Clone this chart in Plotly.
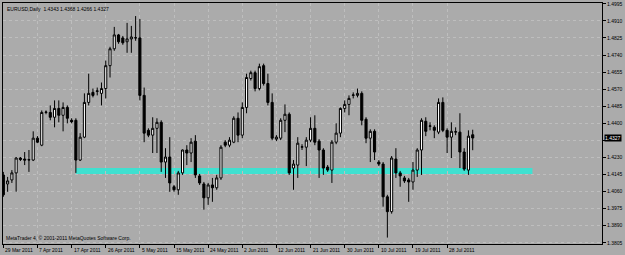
import plotly.graph_objects as go

# ---- data (EURUSD daily; bar index = position) ----
opens = [1.4143, 1.4098, 1.4118, 1.4153, 1.4227, 1.4222, 1.4217, 1.4217, 1.4326, 1.4291,
         1.4454, 1.4454, 1.4430, 1.4474, 1.4440, 1.4479, 1.4415, 1.4415, 1.4217, 1.4331,
         1.4504, 1.4554, 1.4559, 1.4549, 1.4573, 1.4687, 1.4771, 1.4840, 1.4825, 1.4806,
         1.4820, 1.4825, 1.4825, 1.4539, 1.4365, 1.4341, 1.4375, 1.4405, 1.4207, 1.4232,
         1.4084, 1.4069, 1.4153, 1.4267, 1.4252, 1.4311, 1.4138, 1.4098, 1.4029, 1.4093,
         1.4079, 1.4128, 1.4306, 1.4291, 1.4306, 1.4425, 1.4341, 1.4479, 1.4623, 1.4652,
         1.4573, 1.4687, 1.4598, 1.4504, 1.4321, 1.4326, 1.4415, 1.4445, 1.4177, 1.4192,
         1.4281, 1.4281, 1.4316, 1.4375, 1.4311, 1.4267, 1.4182, 1.4167, 1.4306, 1.4351,
         1.4474, 1.4494, 1.4539, 1.4539, 1.4549, 1.4420, 1.4326, 1.4360, 1.4207, 1.4197,
         1.4034, 1.3960, 1.4222, 1.4153, 1.4128, 1.4118, 1.4108, 1.4167, 1.4267, 1.4410,
         1.4385, 1.4380, 1.4356, 1.4504, 1.4365, 1.4331, 1.4356, 1.4356, 1.4257, 1.4167,
         1.4343]
highs = [1.4158, 1.4133, 1.4167, 1.4232, 1.4232, 1.4257, 1.4267, 1.4360, 1.4336, 1.4464,
         1.4464, 1.4489, 1.4514, 1.4514, 1.4504, 1.4489, 1.4425, 1.4425, 1.4351, 1.4549,
         1.4647, 1.4573, 1.4578, 1.4603, 1.4712, 1.4781, 1.4880, 1.4845, 1.4835, 1.4900,
         1.4885, 1.4934, 1.4919, 1.4578, 1.4375, 1.4430, 1.4425, 1.4415, 1.4276, 1.4331,
         1.4093, 1.4163, 1.4270, 1.4291, 1.4326, 1.4341, 1.4148, 1.4108, 1.4103, 1.4128,
         1.4143, 1.4291, 1.4316, 1.4331, 1.4435, 1.4454, 1.4504, 1.4647, 1.4662, 1.4662,
         1.4697, 1.4697, 1.4647, 1.4549, 1.4341, 1.4425, 1.4494, 1.4454, 1.4217, 1.4331,
         1.4296, 1.4331, 1.4430, 1.4440, 1.4321, 1.4276, 1.4192, 1.4316, 1.4400, 1.4479,
         1.4514, 1.4539, 1.4554, 1.4573, 1.4559, 1.4430, 1.4370, 1.4370, 1.4217, 1.4207,
         1.4044, 1.4237, 1.4276, 1.4163, 1.4138, 1.4128, 1.4207, 1.4276, 1.4425, 1.4430,
         1.4405, 1.4390, 1.4524, 1.4529, 1.4375, 1.4405, 1.4380, 1.4450, 1.4276, 1.4365,
         1.4368]
lows = [1.4034, 1.4059, 1.4103, 1.4059, 1.4212, 1.4192, 1.4158, 1.4212, 1.4301, 1.4286,
        1.4445, 1.4415, 1.4380, 1.4405, 1.4360, 1.4400, 1.4400, 1.4153, 1.4212, 1.4326,
        1.4489, 1.4529, 1.4539, 1.4489, 1.4524, 1.4628, 1.4761, 1.4796, 1.4791, 1.4751,
        1.4751, 1.4811, 1.4514, 1.4306, 1.4331, 1.4252, 1.4252, 1.4158, 1.4128, 1.4059,
        1.4059, 1.4044, 1.4143, 1.4192, 1.4207, 1.4128, 1.4093, 1.3970, 1.3994, 1.4009,
        1.4069, 1.4118, 1.4281, 1.4281, 1.4301, 1.4306, 1.4326, 1.4450, 1.4613, 1.4559,
        1.4564, 1.4588, 1.4489, 1.4316, 1.4311, 1.4316, 1.4356, 1.4143, 1.4069, 1.4128,
        1.4267, 1.4187, 1.4306, 1.4291, 1.4128, 1.4143, 1.4158, 1.4103, 1.4296, 1.4331,
        1.4454, 1.4440, 1.4524, 1.4529, 1.4390, 1.4301, 1.4207, 1.4217, 1.4187, 1.3985,
        1.3831, 1.3950, 1.4128, 1.4084, 1.4103, 1.4009, 1.4069, 1.4133, 1.4143, 1.4336,
        1.4365, 1.4326, 1.4346, 1.4356, 1.4252, 1.4227, 1.4341, 1.4177, 1.4163, 1.4143,
        1.4266]
closes = [1.4044, 1.4113, 1.4153, 1.4227, 1.4220, 1.4217, 1.4219, 1.4326, 1.4306, 1.4454,
          1.4456, 1.4430, 1.4474, 1.4440, 1.4479, 1.4425, 1.4408, 1.4217, 1.4331, 1.4504,
          1.4549, 1.4539, 1.4561, 1.4573, 1.4687, 1.4771, 1.4840, 1.4806, 1.4801, 1.4820,
          1.4830, 1.4826, 1.4539, 1.4351, 1.4341, 1.4375, 1.4405, 1.4207, 1.4232, 1.4103,
          1.4069, 1.4153, 1.4267, 1.4252, 1.4306, 1.4143, 1.4103, 1.4029, 1.4093, 1.4079,
          1.4128, 1.4281, 1.4291, 1.4316, 1.4425, 1.4341, 1.4479, 1.4628, 1.4652, 1.4573,
          1.4682, 1.4598, 1.4504, 1.4326, 1.4331, 1.4415, 1.4445, 1.4153, 1.4197, 1.4301,
          1.4283, 1.4316, 1.4375, 1.4306, 1.4267, 1.4177, 1.4167, 1.4306, 1.4351, 1.4474,
          1.4494, 1.4524, 1.4541, 1.4549, 1.4415, 1.4326, 1.4360, 1.4257, 1.4197, 1.4034,
          1.3960, 1.4227, 1.4153, 1.4138, 1.4113, 1.4108, 1.4167, 1.4267, 1.4415, 1.4360,
          1.4387, 1.4365, 1.4504, 1.4365, 1.4331, 1.4360, 1.4358, 1.4257, 1.4172, 1.4336,
          1.4327]

date_tick_bars = [0, 8, 16, 24, 32, 40, 48, 56, 64, 72, 80, 88, 96, 104]
date_tick_labels = ["29 Mar 2011", "7 Apr 2011", "17 Apr 2011", "26 Apr 2011",
                    "5 May 2011", "15 May 2011", "24 May 2011", "2 Jun 2011",
                    "12 Jun 2011", "21 Jun 2011", "30 Jun 2011", "10 Jul 2011",
                    "19 Jul 2011", "28 Jul 2011"]
price_ticks = [1.4995, 1.4910, 1.4825, 1.4740, 1.4655, 1.4570, 1.4485, 1.4400,
               1.4315, 1.4230, 1.4145, 1.4060, 1.3975, 1.3890, 1.3805]
price_tick_labels = ["1.4995", "1.4910", "1.4825", "1.4740", "1.4655", "1.4570", "1.4485",
                     "1.4400", "", "1.4230", "1.4145", "1.4060", "1.3975", "1.3890", "1.3805"]

zone_start_bar, zone_end_bar = 17, 124
zone_low, zone_high = 1.4148, 1.4177

symbol_title = "EURUSD,Daily  1.4343 1.4368 1.4266 1.4327"
copyright_text = "MetaTrader 4, © 2001-2011 MetaQuotes Software Corp."
last_price = closes[-1]

BG = "#ABABAB"
GRID = "#BEBEBE"
FONT = "Liberation Sans"
FS = 5

bars = list(range(len(opens)))

fig = go.Figure()
fig.add_trace(go.Candlestick(
    x=bars, open=opens, high=highs, low=lows, close=closes,
    increasing=dict(line=dict(color="black", width=1), fillcolor="white"),
    decreasing=dict(line=dict(color="black", width=1), fillcolor="black"),
    whiskerwidth=0, showlegend=False, hoverinfo="skip",
))

fig.add_shape(type="rect", xref="x", yref="y",
              x0=zone_start_bar, x1=zone_end_bar, y0=zone_low, y1=zone_high,
              fillcolor="#40E0D0", line=dict(width=0), layer="below")

annotations = []
for b, lab in zip(date_tick_bars, date_tick_labels):
    annotations.append(dict(x=b, y=0, xref="x", yref="paper", text=lab,
                            xanchor="left", yanchor="top", showarrow=False,
                            xshift=0, yshift=-1, font=dict(size=FS, color="black", family=FONT)))
annotations.append(dict(x=0.003, y=0.997, xref="paper", yref="paper", text=symbol_title,
                        xanchor="left", yanchor="top", showarrow=False,
                        font=dict(size=FS, color="black", family=FONT)))
annotations.append(dict(x=0.002, y=0.005, xref="paper", yref="paper", text=copyright_text,
                        xanchor="left", yanchor="bottom", showarrow=False,
                        font=dict(size=FS, color="black", family=FONT)))
annotations.append(dict(x=1.0, y=last_price, xref="paper", yref="y",
                        text=f"{last_price:.4f}", xanchor="left", yanchor="middle",
                        showarrow=False, bgcolor="black", borderpad=0, xshift=2,
                        font=dict(size=FS, color="white", family=FONT)))

fig.update_layout(
    width=625, height=255,
    margin=dict(l=2, r=21, t=2, b=11),
    paper_bgcolor=BG, plot_bgcolor=BG,
    font=dict(family=FONT, size=FS, color="black"),
    annotations=annotations,
    xaxis=dict(range=[-0.08, 140.3], rangeslider=dict(visible=False),
               tickvals=date_tick_bars, ticktext=[""] * len(date_tick_bars),
               ticks="outside", ticklen=3, tickcolor="black",
               showgrid=True, gridcolor=GRID, griddash="dot", gridwidth=1,
               showline=True, linecolor="black", linewidth=1, mirror=True,
               zeroline=False, fixedrange=True),
    yaxis=dict(range=[1.3799, 1.4999], side="right",
               tickvals=price_ticks, ticktext=price_tick_labels,
               ticks="outside", ticklen=3, tickcolor="black",
               tickfont=dict(size=FS, color="black", family=FONT),
               showgrid=True, gridcolor=GRID, griddash="dot", gridwidth=1,
               showline=True, linecolor="black", linewidth=1, mirror=True,
               zeroline=False, fixedrange=True),
)

fig.write_html("out.html")
